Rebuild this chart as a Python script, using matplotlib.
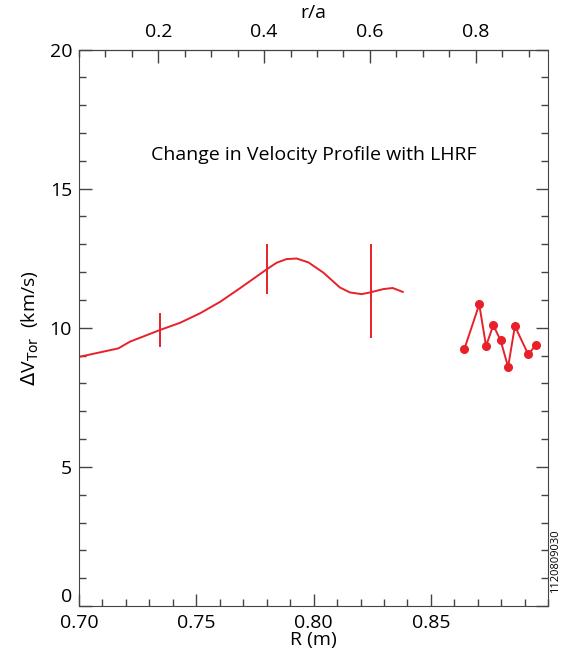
import matplotlib
matplotlib.use("Agg")
import matplotlib.pyplot as plt
from matplotlib.ticker import MultipleLocator

plt.rcParams['font.family'] = ['Open Sans', 'DejaVu Sans']

# profil lisse de dV_tor
r_prof = [0.7004, 0.7168, 0.7217, 0.7345, 0.7431, 0.7516, 0.7601, 0.7686, 0.7800,
          0.7843, 0.7885, 0.7928, 0.7978, 0.8042, 0.8112, 0.8155, 0.8205, 0.8240,
          0.8297, 0.8337, 0.8380]
v_prof = [8.96, 9.26, 9.50, 9.92, 10.18, 10.52, 10.93, 11.42, 12.10,
          12.34, 12.47, 12.49, 12.35, 11.98, 11.45, 11.27, 11.21, 11.27,
          11.39, 11.43, 11.29]

# barres d'erreur
r_err = [0.7345, 0.7800, 0.8245]
v_err_bas = [9.32, 11.2, 9.64]
v_err_haut = [10.52, 13.0, 13.0]

# points de bord
r_bord = [0.8642, 0.8706, 0.8735, 0.8766, 0.8797, 0.8829, 0.8858, 0.8915, 0.8947]
v_bord = [9.22, 10.84, 9.35, 10.09, 9.55, 8.59, 10.06, 9.04, 9.38]

rouge = '#e8202a'

fig = plt.figure(figsize=(5.64, 6.68), dpi=100)
ax = fig.add_axes([0.140, 0.0928, 0.832, 0.833])

ax.plot(r_prof, v_prof, color=rouge, lw=1.4)
ax.vlines(r_err, v_err_bas, v_err_haut, color=rouge, lw=1.4)
ax.plot(r_bord, v_bord, color=rouge, lw=1.4, marker='o', ms=5.5)

ax.set_xlim(0.70, 0.90)
ax.set_ylim(0, 20)
ax.xaxis.set_minor_locator(MultipleLocator(0.01))
ax.yaxis.set_minor_locator(MultipleLocator(1))
ax.set_xticks([0.70, 0.75, 0.80, 0.85])
ax.set_xticklabels(['0.70', '0.75', '0.80', '0.85'])
ax.set_yticks([0, 5, 10, 15, 20])
ax.set_yticklabels(['0', '5', '10', '15', '20'])
ax.tick_params(which='major', length=9, width=1, labelsize=14, color='#444444', right=True, direction='in')
ax.tick_params(which='minor', length=5, width=1, color='#444444', right=True, direction='in')
ax.tick_params(axis='x', which='both', top=False, pad=6)
ax.tick_params(axis='y', which='major', pad=5)
for s in ax.spines.values():
    s.set_color('#444444')
ax.get_yticklabels()[0].set_va('bottom')

ax.set_xlabel('R (m)', fontsize=14, labelpad=-1)
ax.set_ylabel(r'$\Delta$V$_{\rm Tor}$  (km/s)', fontsize=14, labelpad=6)

# axe r/a en haut
sec = ax.secondary_xaxis('top', functions=(lambda R: 0.05 + (R - 0.70) * 4.435,
                                            lambda x: 0.70 + (x - 0.05) / 4.435))
sec.xaxis.set_minor_locator(MultipleLocator(0.05))
sec.set_xticks([0.2, 0.4, 0.6, 0.8])
sec.set_xticklabels(['0.2', '0.4', '0.6', '0.8'])
sec.tick_params(which='major', length=9, width=1, labelsize=14, color='#444444', direction='in', pad=6)
sec.tick_params(which='minor', length=5, width=1, color='#444444', direction='in')
sec.set_xlabel('r/a', fontsize=14, labelpad=4)

ax.text(0.80, 16.2, 'Change in Velocity Profile with LHRF', fontsize=14, ha='center', va='center')
fig.text(0.985, 0.16, '1120809030', rotation=90, fontsize=8, ha='center', va='center')

fig.savefig('out.png', dpi=100)
